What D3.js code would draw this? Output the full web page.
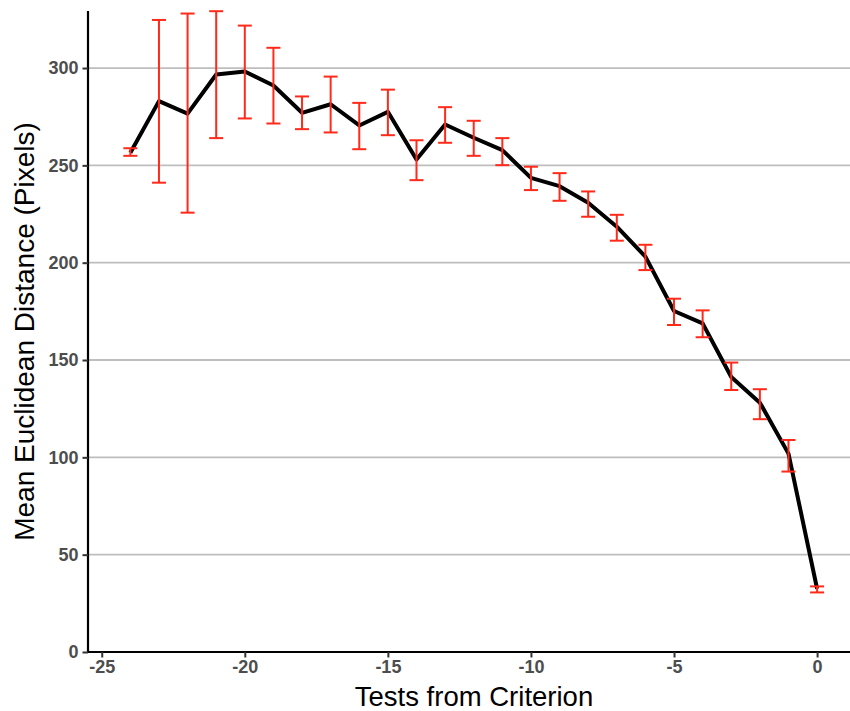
<!DOCTYPE html>
<html>
<head>
<meta charset="utf-8">
<script src="https://cdn.jsdelivr.net/npm/d3@7"></script>
<style>
  body { margin: 0; background: #fff; }
  svg { display: block; }
</style>
</head>
<body>
<div id="chart"></div>
<script>
// Set the dimensions and margins of the graph
let width = 850, height = 711;
let margin = {top: 11, right: 0, bottom: 59, left: 88};

// Data
let tests = [-24, -23, -22, -21, -20, -19, -18, -17, -16, -15, -14, -13, -12,
             -11, -10, -9, -8, -7, -6, -5, -4, -3, -2, -1, 0];
let meanDist = [256.5, 283, 276.6, 296.7, 298.2, 291, 277, 281.4, 270.5, 277.5, 253, 271, 264.2,
                257.8, 243.6, 239.3, 230.8, 218.5, 203.1, 175.2, 168.8, 141.3, 128.1, 101.9, 32.5];
let errLow = [254.9, 241.1, 225.7, 264, 274.1, 271.5, 268.6, 266.9, 258.3, 265.5, 242.4, 261.6, 254.9,
              250.1, 237.3, 231.8, 223.6, 211.3, 196.2, 168, 161.7, 134.6, 119.6, 92.7, 30.6];
let errHigh = [258.8, 324.7, 328, 329.2, 321.8, 310.4, 285.4, 295.6, 282.1, 288.9, 262.9, 279.9, 272.9,
               264, 249.3, 246, 236.6, 224.6, 209.2, 181.5, 175.5, 148.7, 135, 108.9, 33.7];
let xTicks = [-25, -20, -15, -10, -5, 0];
let yTicks = [0, 50, 100, 150, 200, 250, 300];

let rows = tests.map((t, i) => ({x: t, y: meanDist[i], lo: errLow[i], hi: errHigh[i]}));

let svg = d3.select("#chart").append("svg")
    .attr("width", width)
    .attr("height", height);

let x = d3.scaleLinear().domain([-25.48, 1.15]).range([margin.left, width - margin.right]);
let y = d3.scaleLinear().domain([0, 329.3]).range([height - margin.bottom, margin.top]);

// Horizontal grid lines
svg.append("g").selectAll("line")
    .data(yTicks.filter(d => d > 0))
    .enter().append("line")
    .attr("x1", margin.left)
    .attr("x2", width - margin.right)
    .attr("y1", d => y(d))
    .attr("y2", d => y(d))
    .attr("stroke", "#bebebe")
    .attr("stroke-width", 1.8);

// Mean line
svg.append("path")
    .datum(rows)
    .attr("fill", "none")
    .attr("stroke", "#000")
    .attr("stroke-width", 4)
    .attr("stroke-linejoin", "round")
    .attr("d", d3.line().x(d => x(d.x)).y(d => y(d.y)));

// Error bars (drawn over the line)
let capW = 7;
let bars = svg.append("g")
    .attr("stroke", "#ff2a1a")
    .attr("stroke-width", 2)
    .selectAll("g")
    .data(rows)
    .enter().append("g");
bars.append("line")
    .attr("x1", d => x(d.x)).attr("x2", d => x(d.x))
    .attr("y1", d => y(d.lo)).attr("y2", d => y(d.hi));
bars.append("line")
    .attr("x1", d => x(d.x) - capW).attr("x2", d => x(d.x) + capW)
    .attr("y1", d => y(d.hi)).attr("y2", d => y(d.hi));
bars.append("line")
    .attr("x1", d => x(d.x) - capW).attr("x2", d => x(d.x) + capW)
    .attr("y1", d => y(d.lo)).attr("y2", d => y(d.lo));

// Axes
let xAxis = svg.append("g")
    .attr("transform", "translate(0," + y(0) + ")")
    .call(d3.axisBottom(x).tickValues(xTicks).tickSize(5.5).tickPadding(3).tickFormat(d => String(d)));
let yAxis = svg.append("g")
    .attr("transform", "translate(" + margin.left + ",0)")
    .call(d3.axisLeft(y).tickValues(yTicks).tickSize(5.5).tickPadding(4).tickFormat(d => String(d)));

[xAxis, yAxis].forEach(function(ax) {
    ax.select(".domain").attr("stroke", "#000").attr("stroke-width", 2.2);
    ax.selectAll(".tick line").attr("stroke", "#333").attr("stroke-width", 2);
    ax.selectAll(".tick text")
        .attr("fill", "#4d4d4d")
        .style("font-family", "'Liberation Sans', Arial, sans-serif")
        .style("font-weight", "bold")
        .style("font-size", "18px");
});
xAxis.select(".domain").attr("d", "M" + margin.left + ",0H" + width);
yAxis.select(".domain").attr("d", "M0," + margin.top + "V" + y(0));

// Axis titles
svg.append("text")
    .attr("x", 474)
    .attr("y", 706)
    .attr("text-anchor", "middle")
    .style("font-family", "'Liberation Sans', Arial, sans-serif")
    .style("font-size", "27.5px")
    .text("Tests from Criterion");

svg.append("text")
    .attr("transform", "translate(34," + (margin.top + y(0)) / 2 + ") rotate(-90)")
    .attr("text-anchor", "middle")
    .style("font-family", "'Liberation Sans', Arial, sans-serif")
    .style("font-size", "28px")
    .text("Mean Euclidean Distance (Pixels)");
</script>
</body>
</html>
